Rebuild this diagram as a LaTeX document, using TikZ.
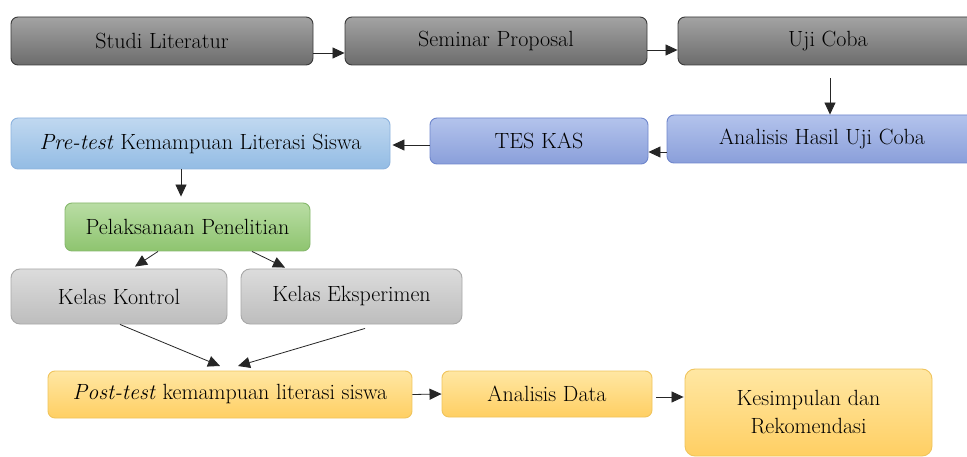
\documentclass[tikz,border=0pt]{standalone}
\usepackage{xcolor}
\usetikzlibrary{arrows.meta,positioning,calc}

\definecolor{darkLine}{HTML}{3A3A3A}
\definecolor{darkTop}{HTML}{A3A3A3}
\definecolor{darkBot}{HTML}{6C6C6C}
\definecolor{skyLine}{HTML}{8DB3DE}
\definecolor{skyTop}{HTML}{C0D8F0}
\definecolor{skyBot}{HTML}{93BCE4}
\definecolor{lavLine}{HTML}{6F86CC}
\definecolor{lavTop}{HTML}{B3C3EC}
\definecolor{lavBot}{HTML}{8A9FDA}
\definecolor{leafLine}{HTML}{86B86C}
\definecolor{leafTop}{HTML}{B9DDA4}
\definecolor{leafBot}{HTML}{8EC46F}
\definecolor{silverLine}{HTML}{A8A8A8}
\definecolor{silverTop}{HTML}{DCDCDC}
\definecolor{silverBot}{HTML}{BDBDBD}
\definecolor{sunLine}{HTML}{F0C45C}
\definecolor{sunTop}{HTML}{FFE7A3}
\definecolor{sunBot}{HTML}{FFCF63}

\begin{document}
\begin{tikzpicture}[x=1pt, y=-1pt,
    stage/.style={rectangle, draw=#1Line, top color=#1Top, bottom color=#1Bot, line width=0.9pt, rounded corners=7pt, align=center, text=black, font=\rmfamily\fontsize{22}{28}\selectfont},
    flow/.style={-{Triangle[length=12pt,width=11pt]}, line width=0.8pt, black!85}
]
\useasboundingbox[fill=white] (0,0) rectangle (967,457);

% Persiapan
\node[stage=dark, minimum width=302pt, minimum height=48pt] (studi) at (162,41) {Studi Literatur};
\node[stage=dark, minimum width=302pt, minimum height=48pt] (seminar) at (496,41) {Seminar Proposal};
\node[stage=dark, minimum width=300pt, minimum height=48pt] (ujicoba) at (828,41) {Uji Coba};

% Instrumen
\node[stage=lav, minimum width=310pt, minimum height=48pt] (hasiluji) at (822,139) {Analisis Hasil Uji Coba};
\node[stage=lav, minimum width=218pt, minimum height=46pt] (teskas) at (539,141) {TES KAS};
\node[stage=sky, minimum width=379pt, minimum height=51pt] (pretest) at (200.5,143.5) {\textit{Pre-test} Kemampuan Literasi Siswa};

% Penelitian
\node[stage=leaf, minimum width=245pt, minimum height=48pt] (pelaksanaan) at (187.5,227) {Pelaksanaan Penelitian};
\node[stage=silver, minimum width=216pt, minimum height=55pt, rounded corners=9pt] (kontrol) at (119,296.5) {Kelas Kontrol};
\node[stage=silver, minimum width=221pt, minimum height=55pt, rounded corners=9pt] (eksperimen) at (351.5,296.5) {Kelas Eksperimen};

% Akhir
\node[stage=sun, minimum width=364pt, minimum height=47pt] (posttest) at (230,394.5) {\textit{Post-test} kemampuan literasi siswa};
\node[stage=sun, minimum width=210pt, minimum height=46pt] (analisis) at (547,394) {Analisis Data};
\node[stage=sun, minimum width=247pt, minimum height=87pt, rounded corners=10pt] (kesimpulan) at (808.5,412.5) {Kesimpulan dan\\Rekomendasi};

\coordinate (postL) at (220,366);
\coordinate (postR) at (238,366);

% Panah
\draw[flow] ([yshift=-12pt]studi.east) -- ([yshift=-12pt]seminar.west);
\draw[flow] ([yshift=-9pt]seminar.east) -- ([yshift=-9pt]ujicoba.west);
\draw[flow, shorten <=13pt] ([xshift=2pt]ujicoba.south) -- ([xshift=8pt]hasiluji.north);
\draw[flow] ([yshift=-13pt]hasiluji.west) -- ([yshift=-11pt]teskas.east);
\draw[flow] ([yshift=-4pt]teskas.west) -- ([yshift=-1.5pt,xshift=2pt]pretest.east);
\draw[flow, shorten >=6pt] ([xshift=-19.5pt]pretest.south) -- ([xshift=-6.5pt]pelaksanaan.north);
\draw[flow] ([xshift=-29.5pt]pelaksanaan.south) -- ([xshift=16pt,yshift=2pt]kontrol.north);
\draw[flow] ([xshift=64.5pt]pelaksanaan.south) -- ([xshift=-66.5pt,yshift=1pt]eksperimen.north);
\draw[flow] ([xshift=1pt]kontrol.south) -- (postL);
\draw[flow] ([xshift=13.5pt,yshift=-4pt]eksperimen.south) -- (postR);
\draw[flow] (posttest.east) -- (analisis.west);
\draw[flow, shorten <=4pt, shorten >=1pt] ([yshift=-3pt]analisis.east) -- ([yshift=-3pt]analisis.east -| kesimpulan.west);
\end{tikzpicture}
\end{document}
